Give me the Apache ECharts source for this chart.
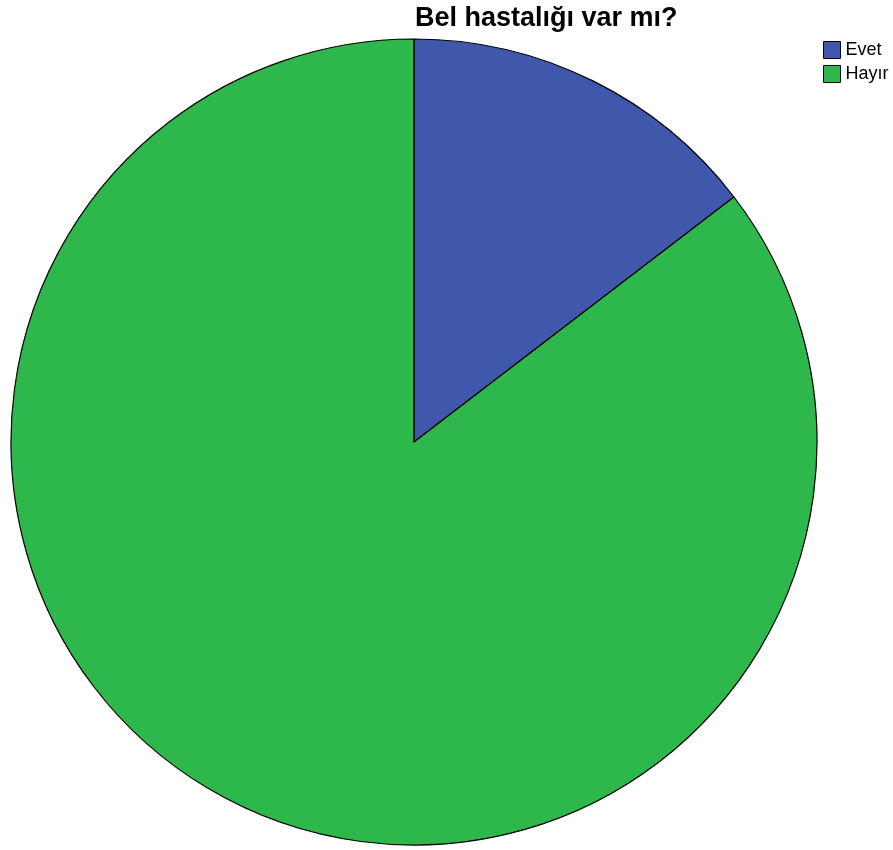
<!DOCTYPE html>
<html>
<head>
<meta charset="utf-8">
<script src="https://cdn.jsdelivr.net/npm/echarts@6/dist/echarts.min.js"></script>
<style>
  html, body { margin: 0; padding: 0; background: #fff; }
  #main { width: 893px; height: 850px; }
</style>
</head>
<body>
<div id="main"></div>
<script>
// kategoriler ve yüzdeler
var categories = ['Evet', 'Hayır'];
var values = [14.6, 85.4];
var colors = ['#3f58ac', '#2eb84b'];

var myChart = echarts.init(document.getElementById('main'));

var data = categories.map(function (name, i) {
  return { name: name, value: values[i], itemStyle: { color: colors[i] } };
});

myChart.setOption({
  animation: false,
  title: {
    text: 'Bel hastalığı var mı?',
    left: 410,
    top: 0,
    textStyle: {
      fontFamily: 'Liberation Sans',
      fontWeight: 'bold',
      fontSize: 27,
      color: '#000'
    }
  },
  legend: {
    orient: 'vertical',
    left: 818,
    top: 36,
    itemWidth: 17,
    itemHeight: 17,
    itemGap: 6,
    icon: 'rect',
    itemStyle: { borderColor: '#000', borderWidth: 1 },
    textStyle: { fontFamily: 'Liberation Sans', fontSize: 18, color: '#000', padding: [0, 0, 0, 0] },
    data: categories
  },
  series: [
    {
      type: 'pie',
      center: [414, 442],
      radius: [0, 403],
      startAngle: 90,
      clockwise: true,
      label: { show: false },
      labelLine: { show: false },
      emphasis: { disabled: true },
      itemStyle: { borderColor: '#000', borderWidth: 1.2 },
      data: data
    }
  ]
});
</script>
</body>
</html>
